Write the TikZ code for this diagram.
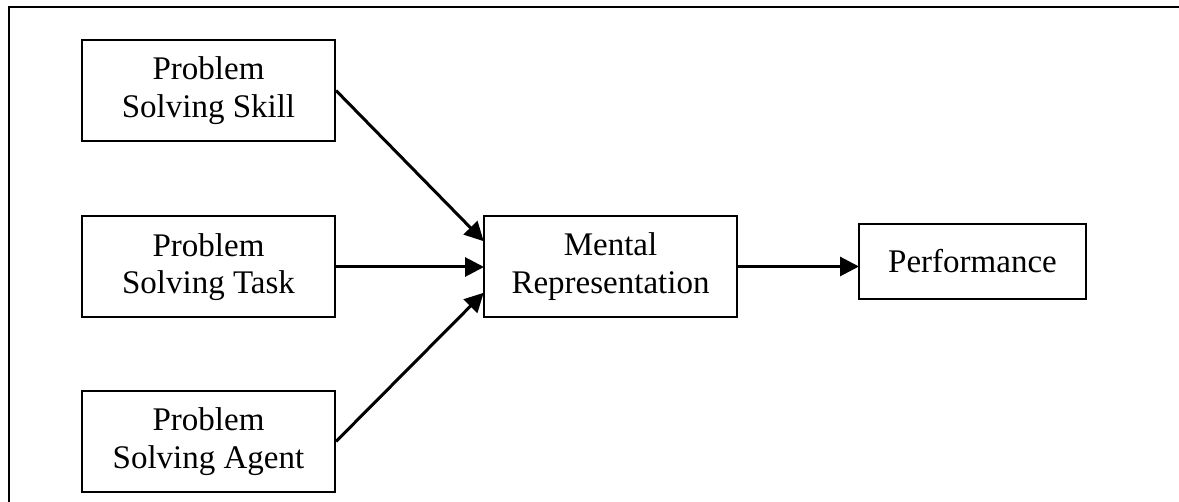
\documentclass[tikz,border=0pt]{standalone}
\usepackage{fontspec}
\setmainfont{Liberation Serif}
\usetikzlibrary{arrows.meta}
\begin{document}
\begin{tikzpicture}[x=1pt,y=-1pt,
  box/.style={draw, line width=2pt, inner sep=0pt, minimum width=253pt, minimum height=101pt, align=center, font=\fontsize{33}{37.5}\selectfont},
  conn/.style={line width=3pt, -{Triangle[length=19pt,width=19pt]}, shorten >=-1pt}]
\useasboundingbox (0,0) rectangle (1179,502);
\fill[white] (0,0) rectangle (1179,502);
\draw[line width=2pt] (9,502) -- (9,7.5) -- (1179,7.5);
\node[box] (skill) at (208.5,90.5) {Problem\\Solving Skill};
\node[box] (task) at (208.5,267) {Problem\\Solving Task};
\node[box] (agent) at (208.5,441.5) {Problem\\Solving Agent};
\node[box] (ment) at (610.5,266.5) {Mental\\Representation};
\node[box, minimum width=227pt, minimum height=75pt] (perf) at (972.5,261.5) {Performance};
\draw[conn] (skill.east) -- ([yshift=26pt]ment.west);
\draw[conn] (task.east) -- (task.east -| ment.west);
\draw[conn] (agent.east) -- ([yshift=-27pt]ment.west);
\draw[conn] (ment.east) -- (ment.east -| perf.west);
\end{tikzpicture}
\end{document}
